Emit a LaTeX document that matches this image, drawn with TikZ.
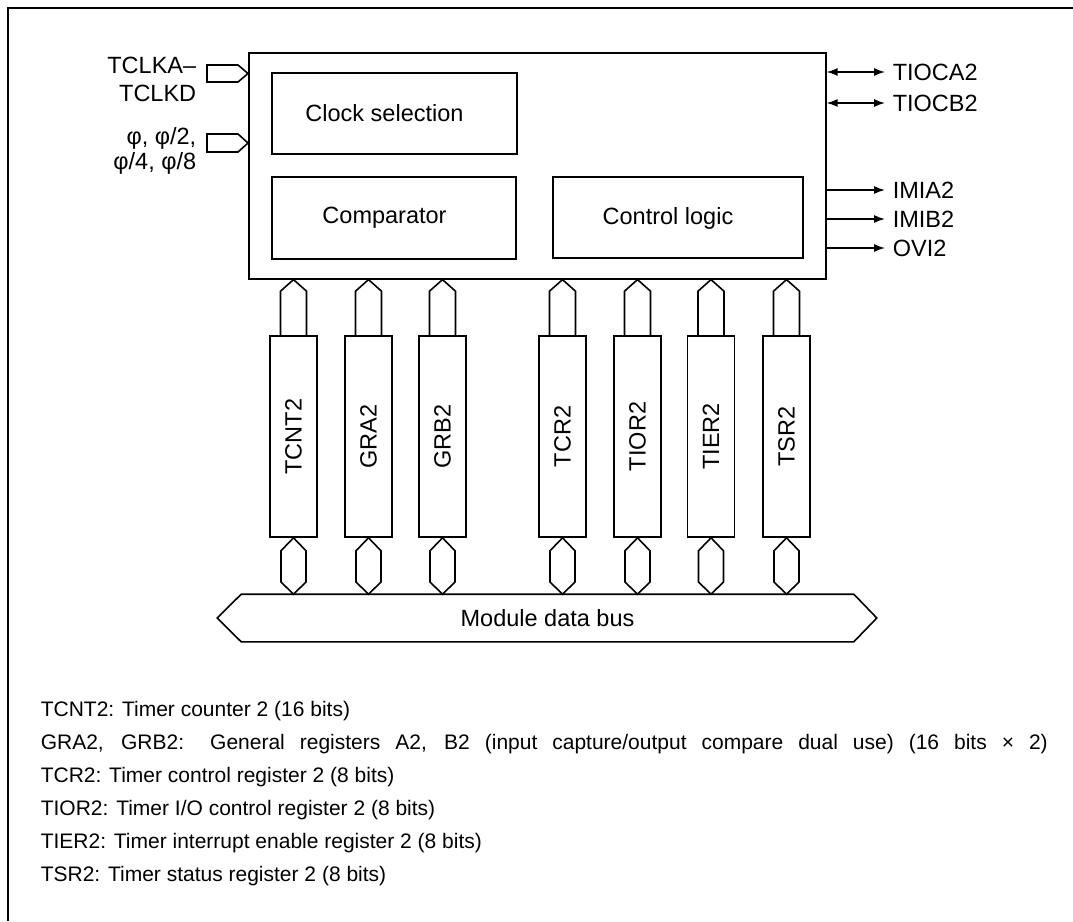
\documentclass[tikz,border=0pt]{standalone}
\usepackage{fontspec}
\setmainfont{Liberation Sans}
\usetikzlibrary{arrows.meta,calc}
\begin{document}
\begin{tikzpicture}[x=1pt,y=-1pt,line width=1.6pt,
  every node/.style={font=\fontsize{23.5}{27}\selectfont, inner sep=0pt},
  box/.style={draw, line width=1.6pt},
  reg/.style={draw, line width=1.6pt, minimum width=47pt, minimum height=201pt},
  sig/.style={-{Latex[length=11pt,width=8pt]}, line width=1.4pt},
  bisig/.style={{Latex[length=11pt,width=8pt]}-{Latex[length=11pt,width=8pt]}, line width=1.4pt},
  lbl/.style={anchor=west},
  legend/.style={anchor=west, font=\fontsize{21}{25}\selectfont}]
\useasboundingbox (0,0) rectangle (1073,921);
% outer frame (top and left visible)
\draw[line width=1.3pt] (8,921) -- (8,8) -- (1073,8);

% main block
\node[box, anchor=north west, minimum width=577pt, minimum height=226pt] (main) at (248,52) {};
\node[box, minimum width=245pt, minimum height=81pt] (cs) at (394.5,113.5) {};
\node (cstxt) at (384.5,113) {Clock selection};
\node[box, minimum width=244pt, minimum height=82pt] (cmp) at (394,218) {};
\node (cmptxt) at (384.5,218) {Comparator};
\node[box, minimum width=250pt, minimum height=81pt] (ctl) at (678,217.5) {};
\node (ctltxt) at (668,218) {Control logic};

% clock inputs
\draw (207,65) -- (238,65) -- (248,73.5) -- (238,82) -- (207,82) -- cycle;
\draw (207,134) -- (238,134) -- (248,143) -- (238,152) -- (207,152) -- cycle;
\node[anchor=east, align=right, font=\fontsize{23.5}{28}\selectfont] (tclk) at (197,79) {TCLKA--\\TCLKD};
\node[anchor=east, align=right, font=\fontsize{23.5}{25}\selectfont] (phi) at (197,150.5) {φ, φ/2,\\φ/4, φ/8};

% right side signals
\node[lbl] (tioca) at (892,72) {TIOCA2};
\node[lbl] (tiocb) at (892,103) {TIOCB2};
\node[lbl] (imia) at (892,190) {IMIA2};
\node[lbl] (imib) at (892,219) {IMIB2};
\node[lbl] (ovi) at (892,248) {OVI2};
\draw[bisig] (main.east |- tioca) -- ([xshift=-7pt]tioca.west);
\draw[bisig] (main.east |- tiocb) -- ([xshift=-7pt]tiocb.west);
\draw[sig] (main.east |- imia) -- ([xshift=-7pt]imia.west);
\draw[sig] (main.east |- imib) -- ([xshift=-7pt]imib.west);
\draw[sig] (main.east |- ovi) -- ([xshift=-7pt]ovi.west);

% module data bus
\node[minimum width=611pt, minimum height=46pt] (bus) at (547.5,618) {Module data bus};
\draw (bus.north west) -- (bus.north east) -- ([xshift=23pt]bus.east) -- (bus.south east) -- (bus.south west) -- ([xshift=-24pt]bus.west) -- cycle;

% registers
\foreach \n/\x/\t in {r1/293.5/TCNT2, r2/368.5/GRA2, r3/442.5/GRB2, r4/562.5/TCR2, r5/637.5/TIOR2, r6/711/TIER2, r7/786.5/TSR2}{
  \node[reg] (\n) at (\x,436.5) {};
  \node[rotate=90] at (\n) {\t};
  % upper connector to main block
  \draw ([xshift=-13pt]\n.north) -- ([xshift=-13pt,yshift=44pt]\n.north) -- (\n.north |- main.south)
        -- ([xshift=13pt,yshift=44pt]\n.north) -- ([xshift=13pt]\n.north);
  % lower connector to bus
  \draw (\n.south) -- ([xshift=-12.5pt,yshift=-13pt]\n.south) -- ([xshift=-12.5pt]\n.south |- 0,582)
        -- (\n.south |- bus.north) -- ([xshift=12.5pt]\n.south |- 0,582) -- ([xshift=12.5pt,yshift=-13pt]\n.south) -- cycle;
}

% legend
\node[legend] (l1) at (40,711) {TCNT2: Timer counter 2 (16 bits)};
\node[legend] (l2) at (40,744) {\makebox[1007pt][s]{GRA2, GRB2: General registers A2, B2 (input capture/output compare dual use) (16 bits × 2)}};
\node[legend] (l3) at (40,777) {TCR2: Timer control register 2 (8 bits)};
\node[legend] (l4) at (40,810) {TIOR2: Timer I/O control register 2 (8 bits)};
\node[legend] (l5) at (40,843) {TIER2: Timer interrupt enable register 2 (8 bits)};
\node[legend] (l6) at (40,876) {TSR2: Timer status register 2 (8 bits)};
\end{tikzpicture}
\end{document}
